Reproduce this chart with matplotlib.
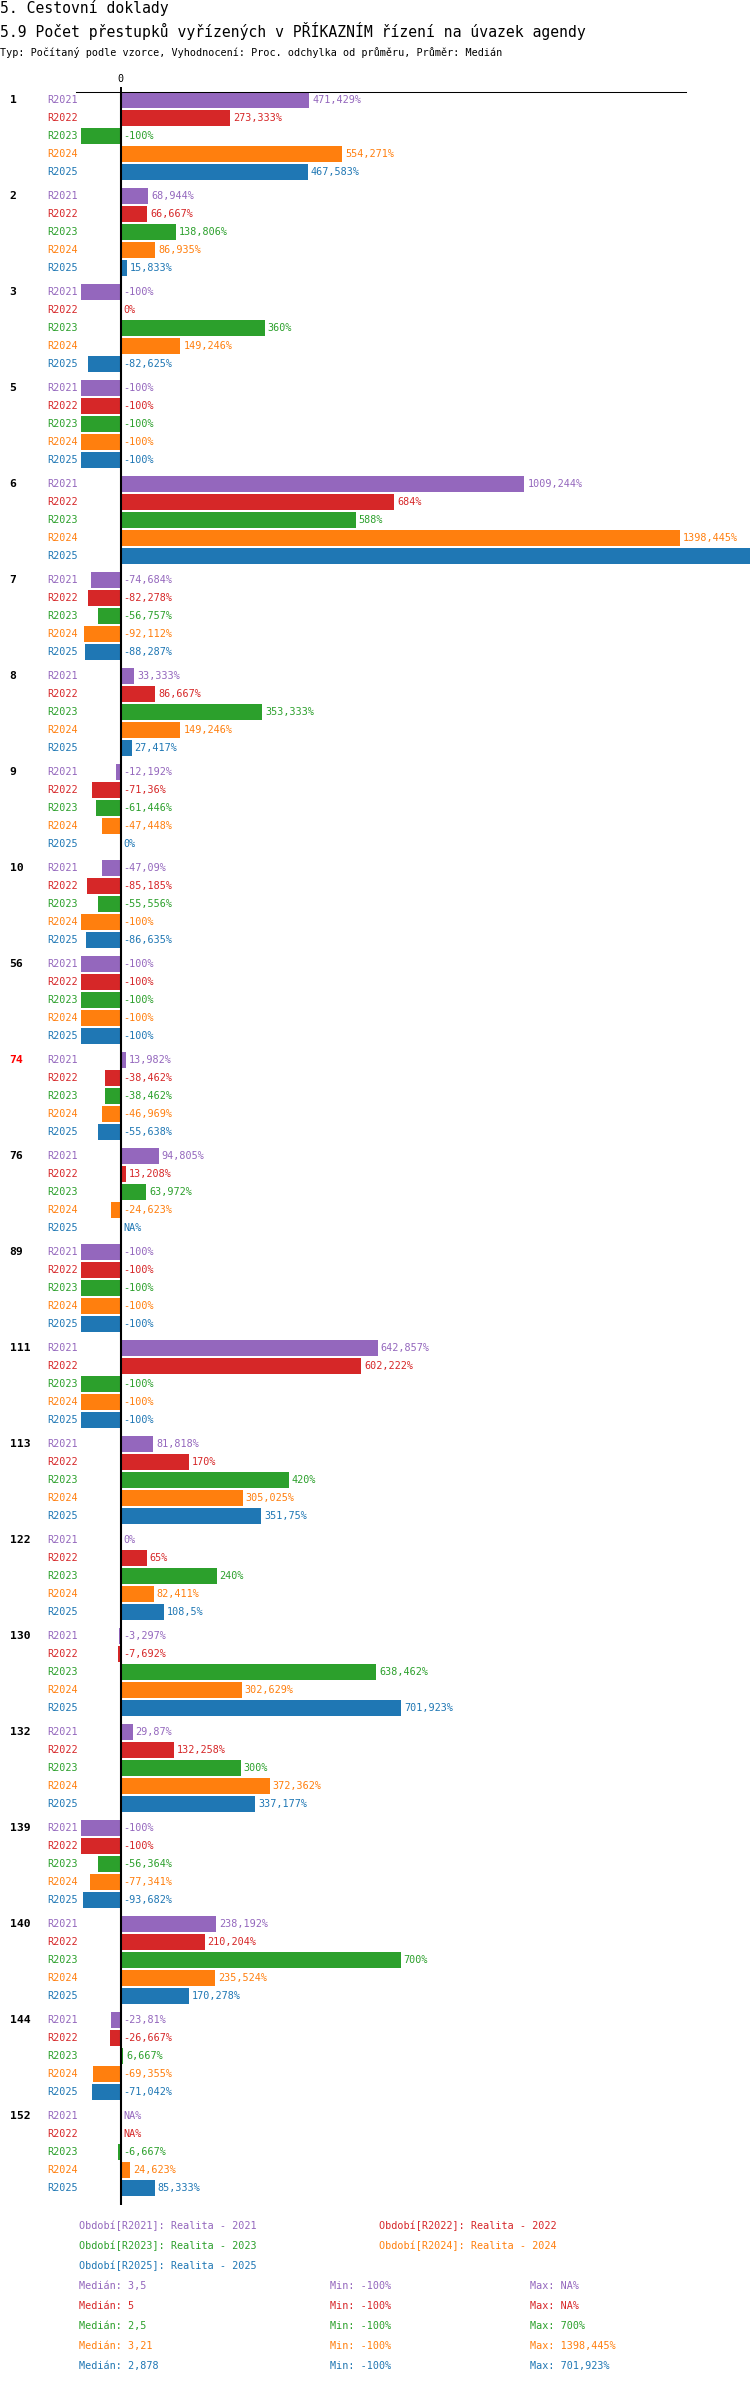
"""
5.9 Počet přestupků vyřízených v PŘÍKAZNÍM řízení na úvazek agendy
Horizontal grouped bars, % deviation from the median per office.
"""

import numpy as np
import matplotlib
matplotlib.use("Agg")
import matplotlib.pyplot as plt
from matplotlib.transforms import blended_transform_factory

plt.rcParams["font.family"] = ["DejaVu Sans Mono", "DejaVu Sans"]

# ── Data ──────────────────────────────────────────────────────────────────────
TITLE = "5. Cestovní doklady"
SUBTITLE = "5.9 Počet přestupků vyřízených v PŘÍKAZNÍM řízení na úvazek agendy"
INFO = "Typ: Počítaný podle vzorce, Vyhodnocení: Proc. odchylka od průměru, Průměr: Medián"

GROUPS = ["1", "2", "3", "5", "6", "7", "8", "9", "10", "56", "74", "76",
          "89", "111", "113", "122", "130", "132", "139", "140", "144", "152"]
HIGHLIGHT = ["74"]

SERIES = ["R2021", "R2022", "R2023", "R2024", "R2025"]
SERIES_DESC = ["Realita - 2021", "Realita - 2022", "Realita - 2023",
               "Realita - 2024", "Realita - 2025"]
COLORS = ["#9467bd", "#d62728", "#2ca02c", "#ff7f0e", "#1f77b4"]

NA = np.nan
INF = np.inf  # value runs off the chart, no label shown

R2021 = [471.429, 68.944, -100, -100, 1009.244, -74.684, 33.333, -12.192, -47.09, -100,
         13.982, 94.805, -100, 642.857, 81.818, 0, -3.297, 29.87, -100, 238.192, -23.81, NA]
R2022 = [273.333, 66.667, 0, -100, 684, -82.278, 86.667, -71.36, -85.185, -100,
         -38.462, 13.208, -100, 602.222, 170, 65, -7.692, 132.258, -100, 210.204, -26.667, NA]
R2023 = [-100, 138.806, 360, -100, 588, -56.757, 353.333, -61.446, -55.556, -100,
         -38.462, 63.972, -100, -100, 420, 240, 638.462, 300, -56.364, 700, 6.667, -6.667]
R2024 = [554.271, 86.935, 149.246, -100, 1398.445, -92.112, 149.246, -47.448, -100, -100,
         -46.969, -24.623, -100, -100, 305.025, 82.411, 302.629, 372.362, -77.341, 235.524, -69.355, 24.623]
R2025 = [467.583, 15.833, -82.625, -100, INF, -88.287, 27.417, 0, -86.635, -100,
         -55.638, NA, -100, -100, 351.75, 108.5, 701.923, 337.177, -93.682, 170.278, -71.042, 85.333]

MEDIAN = [3.5, 5, 2.5, 3.21, 2.878]
MINIMUM = [-100, -100, -100, -100, -100]
MAXIMUM = [NA, NA, 700, 1398.445, 701.923]

# ── Layout (pixels) ───────────────────────────────────────────────────────────
W, H = 750, 2384
AX_L, AX_R, AX_T, AX_B = 75.6, 685.6, 92, 2205
XMIN, XMAX = -112.5, 1412.5
GROUP_PITCH, ROW, BAR_H, FIRST = 96, 18, 15.5, 8
SMALL = 7.3
BIG = 10.6


def fmt(v):
    if np.isnan(v):
        return "NA"
    s = f"{v:.3f}".rstrip("0").rstrip(".")
    return s.replace(".", ",")


def fy(y_px):
    return 1 - y_px / H


fig = plt.figure(figsize=(W / 100, H / 100), dpi=100)
fig.patch.set_facecolor("white")

fig.text(0, fy(8.5), TITLE, fontsize=BIG, va="center", ha="left", color="black")
fig.text(0, fy(31), SUBTITLE, fontsize=BIG, va="center", ha="left", color="black")
fig.text(0, fy(52), INFO, fontsize=SMALL, va="center", ha="left", color="black")

ax = fig.add_axes([AX_L / W, 1 - AX_B / H, (AX_R - AX_L) / W, (AX_B - AX_T) / H])
ax.set_xlim(XMIN, XMAX)
ax.set_ylim(AX_B - AX_T, 0)
ax.set_facecolor("white")
for name, spine in ax.spines.items():
    spine.set_visible(name == "top")
ax.spines["top"].set_linewidth(0.75)
ax.set_yticks([])
ax.xaxis.tick_top()
ax.set_xticks([0])
ax.set_xticklabels(["0"])
ax.tick_params(axis="x", length=3.6, width=1.4, pad=1.8, labelsize=SMALL)
ax.axvline(0, color="black", lw=1.5, zorder=5)

# right edge of the figure in data units, for bars that run off the chart
edge = ax.transData.inverted().transform(fig.transFigure.transform((1, 0)))[0]
lab_tr = blended_transform_factory(fig.transFigure, ax.transData)

values = np.array([R2021, R2022, R2023, R2024, R2025], dtype=float)
group_y = np.arange(len(GROUPS)) * GROUP_PITCH + FIRST

for gi, g in enumerate(GROUPS):
    ax.text(9.6 / W, group_y[gi], g, transform=lab_tr, va="center", ha="left",
            fontsize=8.2, fontweight="bold",
            color="red" if g in HIGHLIGHT else "black")

for j, s in enumerate(SERIES):
    y = group_y + j * ROW
    v = values[j]
    w = np.where(np.isnan(v), 0, np.where(np.isinf(v), edge, v))
    ax.barh(y, w, height=BAR_H, color=COLORS[j], edgecolor="none",
            clip_on=False, zorder=2)
    for yi, vi, wi in zip(y, v, w):
        ax.text(47 / W, yi, s, transform=lab_tr, va="center", ha="left",
                fontsize=SMALL, color=COLORS[j])
        if np.isinf(vi):
            continue
        ax.annotate(fmt(vi) + "%", (max(wi, 0), yi), xytext=(3, 0),
                    textcoords="offset pixels", va="center", ha="left",
                    fontsize=SMALL, color=COLORS[j], annotation_clip=False)

# ── Legend / summary ─────────────────────────────────────────────────────────
LEG_Y0, LEG_DY = 2226, 20
for j, s in enumerate(SERIES):
    row, col = divmod(j, 2)
    x = 79.4 if col == 0 else 379.4
    fig.text(x / W, fy(LEG_Y0 + row * LEG_DY), f"Období[{s}]: {SERIES_DESC[j]}",
             fontsize=SMALL, va="center", ha="left", color=COLORS[j])

for j in range(len(SERIES)):
    y = fy(LEG_Y0 + (3 + j) * LEG_DY)
    fig.text(79.4 / W, y, f"Medián: {fmt(MEDIAN[j])}", fontsize=SMALL,
             va="center", ha="left", color=COLORS[j])
    fig.text(329.7 / W, y, f"Min: {fmt(MINIMUM[j])}%", fontsize=SMALL,
             va="center", ha="left", color=COLORS[j])
    fig.text(529.7 / W, y, f"Max: {fmt(MAXIMUM[j])}%", fontsize=SMALL,
             va="center", ha="left", color=COLORS[j])

fig.savefig("out.png", dpi=100, facecolor="white")
